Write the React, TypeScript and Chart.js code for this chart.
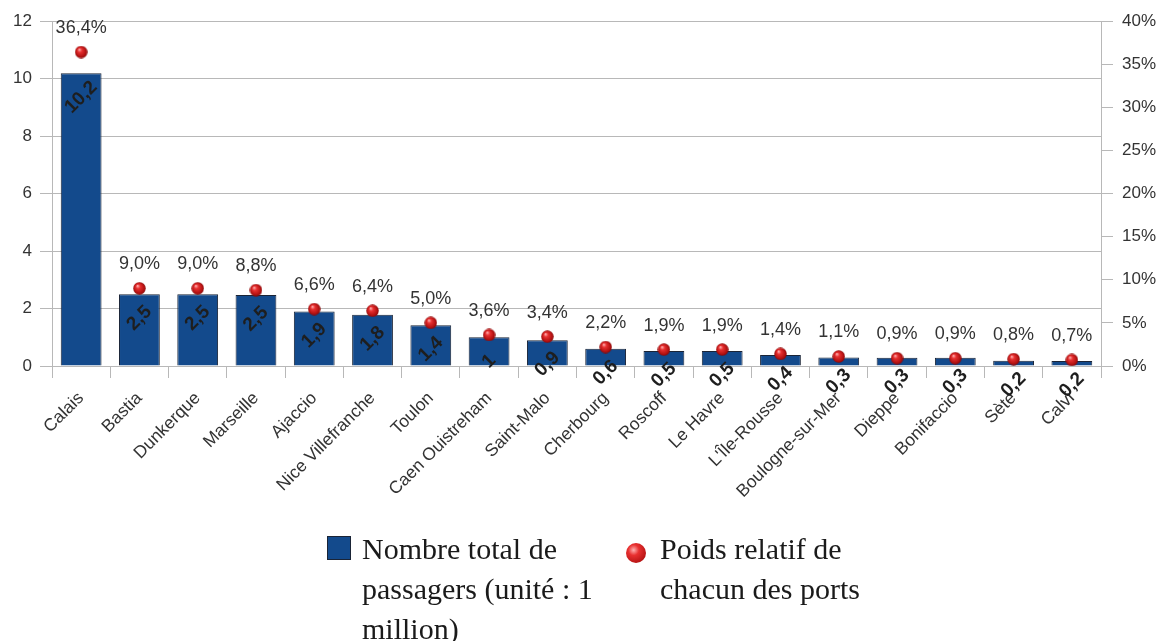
import React, { useEffect, useRef } from 'react';
import { Chart, registerables } from 'chart.js';

Chart.register(...registerables);

const categories = [
  'Calais', 'Bastia', 'Dunkerque', 'Marseille', 'Ajaccio', 'Nice Villefranche',
  'Toulon', 'Caen Ouistreham', 'Saint-Malo', 'Cherbourg', 'Roscoff', 'Le Havre',
  "L'Île-Rousse", 'Boulogne-sur-Mer', 'Dieppe', 'Bonifaccio', 'Sète', 'Calvi',
];
const passengers = [10.18, 2.5, 2.5, 2.47, 1.9, 1.78, 1.42, 1.0, 0.9, 0.6, 0.52, 0.52, 0.38, 0.3, 0.29, 0.29, 0.18, 0.17];
const shares = [36.4, 9.0, 9.0, 8.8, 6.6, 6.4, 5.0, 3.6, 3.4, 2.2, 1.9, 1.9, 1.4, 1.1, 0.9, 0.9, 0.8, 0.7];
const leftAxis = { min: 0, max: 12, step: 2 };
const rightAxis = { min: 0, max: 40, step: 5 };
const legendBar = ['Nombre total de', 'passagers (unité : 1', 'million)'];
const legendPoint = ['Poids relatif de', 'chacun des ports'];

const SANS = '"Liberation Sans", Arial, Helvetica, sans-serif';
const BAR_COLOR = '#134a8c';
const GRID = '#b8b8b8';

const fmtValue = (v: number) => {
  const r = Math.round(v * 10) / 10;
  return (Number.isInteger(r) ? String(r) : r.toFixed(1)).replace('.', ',');
};
const fmtPct = (v: number) => v.toFixed(1).replace('.', ',') + '%';

function makeSphere(d: number) {
  const c = document.createElement('canvas');
  c.width = d;
  c.height = d;
  const g = c.getContext('2d')!;
  const r = d / 2;
  const grad = g.createRadialGradient(r * 0.7, r * 0.6, r * 0.05, r, r, r);
  grad.addColorStop(0, '#ffb0b0');
  grad.addColorStop(0.3, '#e83030');
  grad.addColorStop(0.8, '#b01010');
  grad.addColorStop(1, '#7a0606');
  g.fillStyle = grad;
  g.beginPath();
  g.arc(r, r, r - 0.3, 0, Math.PI * 2);
  g.fill();
  return c;
}

const labelPlugin = {
  id: 'valueLabels',
  afterDatasetsDraw(chart: any) {
    const ctx = chart.ctx;
    const barMeta = chart.getDatasetMeta(0);
    const ptMeta = chart.getDatasetMeta(1);
    ctx.save();
    ctx.textAlign = 'center';
    ctx.textBaseline = 'middle';
    ctx.font = `bold 19px ${SANS}`;
    ctx.fillStyle = '#1e1e1e';
    barMeta.data.forEach((el: any, i: number) => {
      const { x, y } = el.getProps(['x', 'y'], true);
      ctx.save();
      ctx.translate(x, y + 24);
      ctx.rotate(-Math.PI / 4);
      ctx.fillText(fmtValue(passengers[i]), 0, 0);
      ctx.restore();
    });
    ctx.font = `18px ${SANS}`;
    ctx.fillStyle = '#333';
    ptMeta.data.forEach((el: any, i: number) => {
      const { x, y } = el.getProps(['x', 'y'], true);
      ctx.fillText(fmtPct(shares[i]), x, y - 24);
    });
    ctx.restore();
  },
};

export default function App() {
  const ref = useRef<HTMLCanvasElement | null>(null);

  useEffect(() => {
    if (!ref.current) return;
    const sphere = makeSphere(13);
    const chart = new Chart(ref.current, {
      type: 'bar',
      data: {
        labels: categories,
        datasets: [
          {
            type: 'bar',
            label: legendBar.join(' '),
            data: passengers,
            backgroundColor: BAR_COLOR,
            borderColor: '#1a2436',
            borderWidth: 1,
            barPercentage: 0.7,
            categoryPercentage: 1.0,
            yAxisID: 'y',
            order: 1,
          },
          {
            type: 'line',
            label: legendPoint.join(' '),
            data: shares,
            showLine: false,
            pointStyle: sphere as any,
            pointRadius: 7,
            yAxisID: 'y1',
            order: 0,
          },
        ],
      } as any,
      options: {
        animation: false,
        responsive: false,
        devicePixelRatio: 1,
        layout: { padding: { top: 21, left: 0, right: 0, bottom: 0 } },
        plugins: { legend: { display: false }, tooltip: { enabled: false } },
        scales: {
          x: {
            offset: true,
            grid: { offset: true, drawOnChartArea: false, drawTicks: true, tickLength: 12, color: GRID },
            border: { color: GRID },
            ticks: {
              autoSkip: false,
              maxRotation: 45,
              minRotation: 45,
              padding: 10,
              color: '#333',
              font: { family: SANS, size: 17.5 },
            },
            afterFit: (s: any) => { s.height = 641 - 366; },
          },
          y: {
            position: 'left',
            min: leftAxis.min,
            max: leftAxis.max,
            ticks: { stepSize: leftAxis.step, padding: 8, color: '#333', font: { family: SANS, size: 17 } },
            grid: { color: GRID, tickLength: 12 },
            border: { color: GRID },
            afterFit: (s: any) => { s.width = 52; },
          },
          y1: {
            position: 'right',
            min: rightAxis.min,
            max: rightAxis.max,
            ticks: {
              stepSize: rightAxis.step,
              padding: 9,
              color: '#333',
              font: { family: SANS, size: 17 },
              callback: (v: any) => v + '%',
            },
            grid: { drawOnChartArea: false, tickLength: 12, color: GRID },
            border: { color: GRID },
            afterFit: (s: any) => { s.width = 59; },
          },
        },
      } as any,
      plugins: [labelPlugin],
    });
    return () => chart.destroy();
  }, []);

  const legendText: React.CSSProperties = {
    position: 'absolute',
    top: 529,
    fontFamily: '"Liberation Serif", "Times New Roman", serif',
    fontSize: 30,
    lineHeight: '40px',
    color: '#1a1a1a',
    whiteSpace: 'nowrap',
  };

  return (
    <div style={{ position: 'fixed', left: 0, top: 0, width: 1160, height: 641, background: '#fff', overflow: 'hidden' }}>
      <canvas ref={ref} width={1160} height={641} style={{ display: 'block' }} />
      <div style={{ position: 'absolute', left: 327, top: 536, width: 24, height: 24, background: BAR_COLOR, boxSizing: 'border-box', border: '1px solid #1a2436' }} />
      <div style={{ ...legendText, left: 362 }}>
        {legendBar.map((t, i) => <div key={i}>{t}</div>)}
      </div>
      <div style={{ position: 'absolute', left: 626, top: 543, width: 20, height: 20, borderRadius: '50%', background: 'radial-gradient(circle at 38% 35%, #ffb0b0 0%, #e83030 30%, #b01010 80%, #7a0606 100%)' }} />
      <div style={{ ...legendText, left: 660 }}>
        {legendPoint.map((t, i) => <div key={i}>{t}</div>)}
      </div>
    </div>
  );
}
